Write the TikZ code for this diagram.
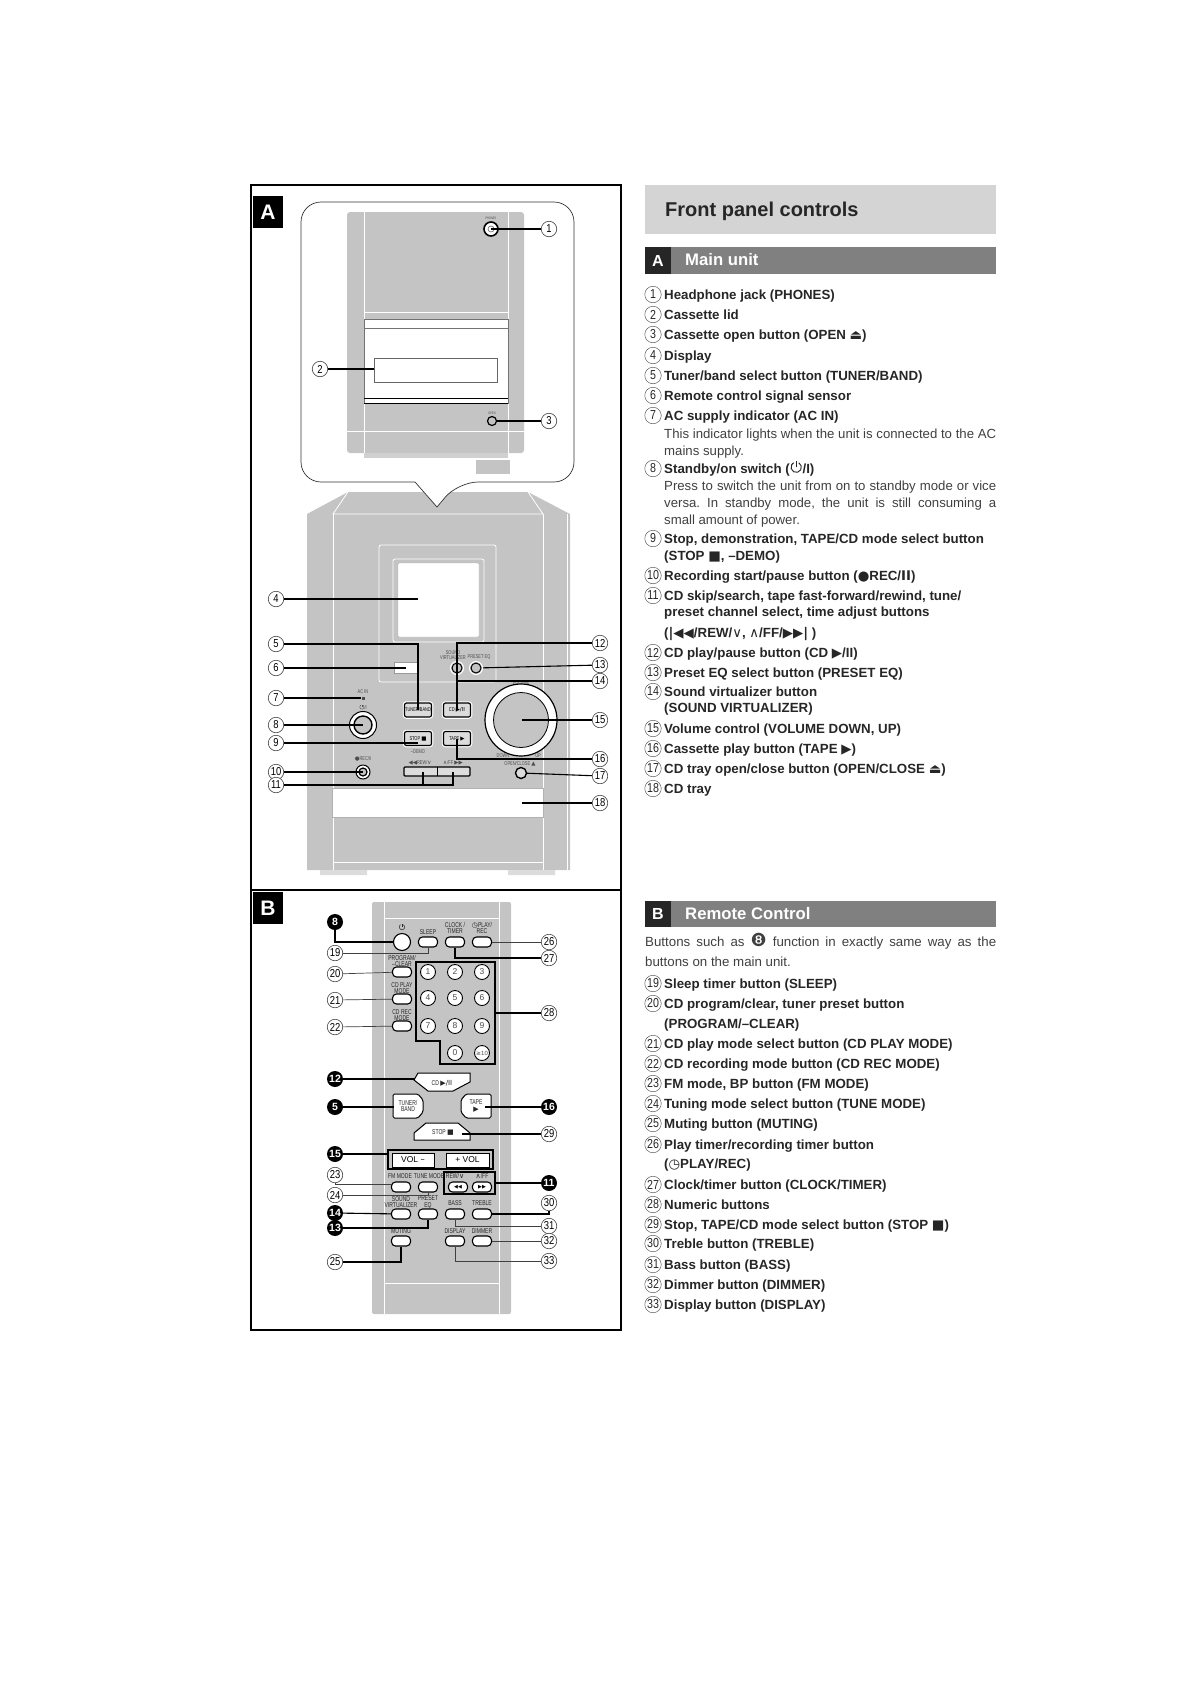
\documentclass[tikz,border=0pt]{standalone}
\usepackage{fontspec}
\setmainfont{Liberation Sans}
\newfontfamily\symf{DejaVu Sans}
\newfontfamily\condf[FakeStretch=0.72]{Liberation Sans}
\newfontfamily\numf[FakeStretch=0.82]{Liberation Sans}
\newcommand{\sym}[1]{{\symf #1}}
\newcommand{\thinsym}[1]{{\symf\mdseries #1}}
\newcommand{\pwrsym}{\tikz[baseline=0pt, x=.13em, y=.13em, line width=.07em]{\draw (5,6.1) arc[start angle=60, end angle=-240, radius=3]; \draw (3.5,3.5) -- (3.5,7);}}
\usetikzlibrary{arrows.meta, positioning, calc}
\definecolor{mGray}{HTML}{C4C4C4}
\definecolor{mBand}{HTML}{808080}
\definecolor{mTitle}{HTML}{D4D4D4}
\definecolor{mInk}{HTML}{262626}
\frenchspacing
\tikzset{
  callout/.style={circle, draw=black!75, line width=0.6pt, fill=white, minimum size=15.5pt, inner sep=0pt, font=\numf\fontsize{11.5}{11}\selectfont},
  blackout/.style={circle, fill=black, text=white, minimum size=16pt, inner sep=0pt, font=\bfseries\fontsize{10.5}{10}\selectfont},
  listnum/.style={circle, draw=black!65, line width=0.5pt, minimum size=16.5pt, inner sep=0pt, yshift=0.5pt, text=mInk, font=\numf\fontsize{13}{11}\selectfont},
  listtxt/.style={anchor=west, inner sep=0pt, yshift=-0.8pt, text height=10pt, text depth=3pt, text=mInk, font=\bfseries\fontsize{13.3}{14}\selectfont},
  desctxt/.style={anchor=north west, inner sep=0pt, text width=332pt, align=justify, text=black!75, font=\fontsize{13.2}{17}\selectfont},
  leader/.style={draw=black, line width=1.1pt},
  thinlead/.style={draw=black!75, line width=0.7pt},
  whiteline/.style={draw=white, line width=0.8pt},
  panelkey/.style={rectangle, rounded corners=2pt, draw=black, line width=1.2pt, fill=mGray!60, minimum width=27pt, minimum height=14pt, inner sep=0pt, preaction={draw=white, line width=3.5pt}, font=\condf\fontsize{5.5}{5}\selectfont},
  tiny/.style={inner sep=0pt, align=center, text=black!70, font=\condf\fontsize{5.5}{5}\selectfont},
  remkey/.style={rectangle, rounded corners=4pt, draw=black, line width=1.1pt, fill=white, minimum width=19pt, minimum height=10pt, inner sep=0pt},
  numkey/.style={circle, draw=black, line width=0.9pt, fill=white, minimum size=15pt, inner sep=0pt, text=black!70, font=\fontsize{8.5}{8}\selectfont},
  remtag/.style={inner sep=0pt, align=center, text=black!85, font=\condf\fontsize{7}{6.6}\selectfont},
  tabbox/.style={fill=black, text=white, minimum width=30pt, minimum height=32pt, inner sep=0pt, font=\bfseries\fontsize{21}{21}\selectfont},
  bandtab/.style={fill=black!85, text=white, minimum width=26pt, minimum height=26pt, inner sep=0pt, font=\bfseries\fontsize{16}{15}\selectfont},
  bandtxt/.style={anchor=west, inner sep=0pt, text=white, font=\bfseries\fontsize{16.7}{15}\selectfont}
}
\begin{document}
\begin{tikzpicture}[x=1pt, y=-1pt]
  \useasboundingbox (0,0) rectangle (1190,1684);
  % main unit
  \fill[mGray] (307,514) -- (348,492) -- (528,492) -- (570,514) -- (570,870) -- (307,870) -- cycle;
  \draw[whiteline] (348,492) -- (333,514) -- (543,514) -- (528,492);
  \draw[whiteline] (333,514) -- (333,870) (543,514) -- (543,870) (333,862) -- (543,862);
  \draw[whiteline] (567,514) -- (567,870);
  \fill[mGray!60] (320,870) rectangle (367,875) (508,870) rectangle (555,875);
  \draw[whiteline, rounded corners=2pt] (379,545) rectangle (496,682);
  \draw[whiteline, rounded corners=2pt] (393,559) rectangle (484,642);
  \draw[draw=black!30, fill=white, rounded corners=1pt] (398,563) rectangle (479,637);
  \draw[draw=black!30, fill=white] (332,788) rectangle (543,817);
  \node[draw=black!40, fill=white, minimum width=23pt, minimum height=11pt, inner sep=0pt] (sensor) at (405.5,667.5) {};
  \node[panelkey] (tuner) at (418,710) {TUNER/BAND};
  \node[panelkey] (cdkey) at (457,710) {CD \sym{▶/II}};
  \node[panelkey] (stopkey) at (418,738.5) {STOP \sym{■}};
  \node[panelkey] (tapekey) at (457,738.5) {TAPE \sym{▶}};
  \draw[black, line width=1.2pt, fill=mGray!60, rounded corners=1pt] (404,767) rectangle (470,776);
  \draw[black, line width=1pt] (437,767) -- (437,776);
  \node[circle, draw=white, line width=1pt, fill=mGray, minimum size=13pt, inner sep=0pt] (virt) at (457,668) {};
  \node[circle, draw=black, line width=1pt, fill=mGray, minimum size=10pt, inner sep=0pt] at (457,668) {};
  \node[circle, draw=white, line width=1pt, fill=mGray, minimum size=13pt, inner sep=0pt] (eqkey) at (476,668) {};
  \node[circle, draw=black, line width=1pt, fill=mGray, minimum size=10pt, inner sep=0pt] at (476,668) {};
  \node[circle, draw=black, line width=1.2pt, fill=white, minimum size=72pt, inner sep=0pt] (knob) at (521,720) {};
  \node[circle, draw=black, line width=0.8pt, fill=mGray, minimum size=55pt, inner sep=0pt] at (521,720) {};
  \node[circle, draw=black, line width=1pt, fill=white, minimum size=27pt, inner sep=0pt] (stand) at (363,725) {};
  \node[circle, draw=black, line width=1.4pt, fill=mGray, minimum size=18pt, inner sep=0pt] at (363,725) {};
  \node[circle, draw=black, line width=1pt, fill=white, minimum size=14pt, inner sep=0pt] (recbtn) at (363,772) {};
  \node[circle, draw=black, line width=1.2pt, fill=mGray, minimum size=8pt, inner sep=0pt] at (363,772) {};
  \node[circle, draw=black, line width=1.4pt, fill=mGray!60, minimum size=11pt, inner sep=0pt] (openbtn) at (521,773) {};
  \node[rectangle, fill=black!70, minimum size=3pt, inner sep=0pt] (acled) at (363,698) {};
  \foreach \nm/\x/\y/\txt in {acin/363/692/{AC IN}, ston/363/707/{\pwrsym/I}, dem/418/752/{–DEMO}, rec/363/759/{\sym{●}REC/II},
      rew/420/763/{\sym{◀◀}REW/\sym{∨}}, ffw/453/763/{\sym{∧}/FF \sym{▶▶}}, snd/453/655/{SOUND\\VIRTUALIZER}, pre/479/657/{PRESET EQ},
      vol/521/683/{VOLUME}, dwn/503/756/{DOWN}, upl/538/756/{UP}, opn/520/764/{OPEN/CLOSE \sym{▲}}} {
    \node[tiny] (\nm) at (\x,\y) {\txt};
  }
  % zoom bubble with the top of the unit
  \draw[black!80, line width=0.7pt, fill=white] (437,507) -- (415,482) [rounded corners=20pt] -- (301,482) -- (301,202) -- (574,202) -- (574,482) -- (458,482) [sharp corners] -- cycle;
  \fill[mGray, rounded corners=3pt] (347,212) -- (524,212) -- (524,453) -- (347,453) -- cycle;
  \draw[whiteline] (364,212) -- (364,458) (508,212) -- (508,458) (364,312) -- (508,312) (347,431) -- (524,431);
  \draw[draw=black!55, fill=white, line width=0.6pt] (364,319) rectangle (508,403);
  \draw[draw=black!55, line width=0.6pt] (364,328) -- (508,328);
  \draw[draw=black, line width=0.8pt] (364,398) -- (508,398) (364,403) -- (508,403);
  \node[draw=black!60, fill=white, line width=1pt, minimum width=123pt, minimum height=24pt, inner sep=0pt] (lidslot) at (435.5,370) {};
  \fill[mGray!80] (364,453) rectangle (508,458);
  \fill[mGray] (476,460) rectangle (510,474);
  \node[circle, draw=black, line width=1.6pt, fill=white, minimum size=14pt, inner sep=0pt] (jackA) at (491,229) {};
  \node[circle, draw=black!60, line width=0.6pt, minimum size=6pt, inner sep=0pt] at (491,229) {};
  \node[circle, draw=black, line width=1.2pt, fill=mGray, minimum size=9pt, inner sep=0pt] (jackB) at (492,421) {};
  \node[tiny, font=\condf\fontsize{3.5}{3}\selectfont] (phn) at (491,218) {PHONES};
  \node[tiny, font=\condf\fontsize{3.5}{3}\selectfont] (opnB) at (492,413) {OPEN};
  \coordinate (e2) at (374,369);
  \coordinate (e4) at (418,599);
  \coordinate (e6) at (406,668);
  \coordinate (e7) at (361,698);
  \coordinate (e15) at (522,720);
  \coordinate (e18) at (522,803);
  \coordinate (e9) at (418,743);
  \coordinate (e11a) at (423,772);
  \coordinate (e11b) at (453,772);
  \foreach \n/\x/\y in {1/549/229, 3/549/421, 2/320/369, 4/276/599, 5/276/644, 6/276/668, 7/276/698, 8/276/725, 9/276/743, 10/276/772, 11/276/785,
      12/600/643, 13/600/665, 14/600/681, 15/600/720, 16/600/759, 17/600/776, 18/600/803} {
    \node[callout] (c\n) at (\x,\y) {\n};
  }
  \foreach \a/\b in {c1/jackA.center, c3/jackB, c2/e2, c4/e4, c6/e6, c7/e7, c8/stand.center, c9/e9, c10/recbtn.center, c13/eqkey, c15/e15, c17/openbtn, c18/e18} {
    \draw[leader] (\a) -- (\b);
  }
  \draw[leader] (c5) -| (tuner.center);
  \draw[leader] (c12) -| (cdkey.center);
  \draw[leader] (c14) -| (virt);
  \draw[leader] (c16) -| (tapekey.center);
  \draw[leader] (c11) -| (e11a);
  \draw[leader] (c11) -| (e11b);
  % remote control
  \fill[mGray, rounded corners=2pt] (372,902) rectangle (511,1314);
  \draw[whiteline] (384,902) -- (384,1314) (499,902) -- (499,1314) (384,918) rectangle (499,1283);
  \node[remkey, circle, minimum size=17pt, minimum width=17pt] (power) at (402,942) {};
  \foreach \nm/\x/\y in {sleep/428/942, clock/455/942, plyrec/482/942, prog/402/972, playm/402/999, recm/402/1026,
      fmm/401/1187, tunem/428/1187, rwd/458/1187, fwd/482/1187, sndv/401/1214, preq/428/1214, bass/455/1214, treb/482/1214,
      mute/401/1241, disp/455/1241, dimm/482/1241} {
    \node[remkey] (\nm) at (\x,\y) {};
  }
  \node[font=\fontsize{5}{5}\selectfont, inner sep=0pt] (rwdg) at (458,1187) {\sym{◀◀}};
  \node[font=\fontsize{5}{5}\selectfont, inner sep=0pt] (fwdg) at (482,1187) {\sym{▶▶}};
  \draw[black, line width=1.2pt] (416,962) -- (495,962) -- (495,1064) -- (440,1064) -- (440,1041) -- (416,1041) -- cycle;
  \foreach \t/\x/\y in {1/428/972, 2/455/972, 3/482/972, 4/428/998, 5/455/998, 6/482/998, 7/428/1026, 8/455/1026, 9/482/1026, 0/455/1053} {
    \node[numkey] (n\t) at (\x,\y) {\t};
  }
  \node[numkey, font=\fontsize{6}{6}\selectfont] (nten) at (482,1053) {\sym{≥}10};
  \draw[black, line width=1pt, fill=white] (414,1080) -- (418,1073) -- (470,1073) -- (470,1082) -- (453,1091) -- (428,1091) -- cycle;
  \draw[black, line width=1pt, fill=white, rounded corners=1.5pt] (393,1094) -- (418,1094) -- (423,1100) -- (423,1112) -- (418,1118) -- (393,1118) -- cycle;
  \draw[black, line width=1pt, fill=white, rounded corners=1.5pt] (491,1094) -- (466,1094) -- (461,1100) -- (461,1112) -- (466,1118) -- (491,1118) -- cycle;
  \draw[black, line width=1pt, fill=white] (414,1133) -- (426,1123) -- (458,1123) -- (470,1133) -- (470,1140) -- (414,1140) -- cycle;
  \draw[black, line width=1.2pt] (388,1150) rectangle (493,1169) (444,1172) rectangle (495,1194);
  \node[draw=black, line width=1pt, fill=white, minimum width=42pt, minimum height=14pt, inner sep=0pt, font=\fontsize{8.5}{8}\selectfont] (voldn) at (413,1160) {VOL \sym{–}};
  \node[draw=black, line width=1pt, fill=white, minimum width=43pt, minimum height=14pt, inner sep=0pt, font=\fontsize{8.5}{8}\selectfont] (volup) at (467.5,1160) {+ VOL};
  \foreach \nm/\x/\y/\txt in {rpow/402/927/{\pwrsym}, rslp/428/932/{SLEEP}, rclk/455/928/{CLOCK /\\TIMER}, rply/482/928/{\sym{◷}PLAY/\\REC},
      rprg/402/961/{PROGRAM/\\–CLEAR}, rcdp/402/988/{CD PLAY\\MODE}, rcdr/402/1015/{CD REC\\MODE},
      rcd/442/1083/{CD \sym{▶/II}}, rtun/408/1106/{TUNER/\\BAND}, rtap/476/1106/{TAPE\\\sym{▶}}, rstp/443/1132/{STOP \sym{■}},
      rfm/400/1176/{FM MODE}, rtn/429/1176/{TUNE MODE}, rrw/455/1176/{REW/\sym{∨}}, rff/482/1176/{\sym{∧}/FF},
      rsv/401/1202/{SOUND\\VIRTUALIZER}, req/428/1202/{PRESET\\EQ}, rbs/455/1203/{BASS}, rtr/482/1203/{TREBLE},
      rmu/401/1231/{MUTING}, rdi/455/1231/{DISPLAY}, rdm/482/1231/{DIMMER}} {
    \node[remtag] (\nm) at (\x,\y) {\txt};
  }
  \coordinate (e12) at (415,1079);
  \coordinate (e5) at (394,1107);
  \coordinate (e16) at (485,1107);
  \coordinate (e15r) at (388,1154);
  \coordinate (e11r) at (495,1183);
  \coordinate (e23) at (392,1184);
  \coordinate (e28) at (495,1013);
  \coordinate (e29) at (462,1134);
  \foreach \n/\x/\y in {19/335/953, 20/335/974, 21/335/1000, 22/335/1027, 23/335/1175, 24/335/1195, 25/335/1262,
      26/549/942, 27/549/958, 28/549/1013, 29/549/1134, 30/549/1203, 31/549/1226, 32/549/1241, 33/549/1261} {
    \node[callout] (r\n) at (\x,\y) {\n};
  }
  \foreach \n/\x/\y in {8/335/922, 12/335/1079, 5/335/1107, 15/335/1154, 14/335/1213, 13/335/1228, 16/549/1107, 11/549/1183} {
    \node[blackout] (k\n) at (\x,\y) {\n};
  }
  \foreach \a/\b in {k12/e12, k5/e5, k16/e16, k15/e15r, k11/e11r, k14/sndv, r28/e28, r29/e29} {
    \draw[leader] (\a) -- (\b);
  }
  \foreach \a/\b in {r20/prog, r21/playm, r22/recm, r26/plyrec, r32/dimm} {
    \draw[thinlead] (\a) -- (\b);
  }
  \draw[leader] (k8) |- (power);
  \draw[thinlead] (r19) -| (sleep);
  \draw[leader] (r27) -| (clock);
  \draw[thinlead] (r23) |- (e23);
  \draw[thinlead] (r24) -| (tunem);
  \draw[leader] (k13) -| (preq);
  \draw[leader] (r25) -| (mute);
  \draw[leader] (treb) -| (r30);
  \draw[thinlead] (bass) |- (r31);
  \draw[thinlead] (disp) |- (r33);
  % frames
  \draw[black, line width=2.8pt] (251,185) rectangle (621,1330) (251,890) -- (621,890);
  \node[tabbox] (tabA) at (268,212) {A};
  \node[tabbox] (tabB) at (268,908) {B};
  % text column
  \node[fill=mTitle, minimum width=351pt, minimum height=49pt, inner sep=0pt] (titlebar) at (820.5,209.5) {};
  \node[anchor=west, inner sep=0pt, text=black!85, font=\bfseries\fontsize{20}{20}\selectfont] (title) at (665,211) {Front panel controls};
  \node[fill=mBand, minimum width=351pt, minimum height=27pt, inner sep=0pt] (bandA) at (820.5,260.5) {};
  \node[bandtab, minimum height=27pt] (bandtabA) at (658,260.5) {A};
  \node[bandtxt] (bandtxtA) at (685,260) {Main unit};
  \foreach \n/\y/\txt in {1/295/{Headphone jack (PHONES)}, 2/315/{Cassette lid}, 3/335/{Cassette open button (OPEN \sym{⏏})}, 4/356/{Display},
      5/376/{Tuner/band select button (TUNER/BAND)}, 6/396/{Remote control signal sensor}, 7/416/{AC supply indicator (AC IN)},
      8/469/{Standby/on switch (\pwrsym/I)}, 9/539/{Stop, demonstration, TAPE/CD mode select button}, 10/576/{Recording start/pause button (\sym{●}REC/\sym{II})},
      11/596/{CD skip/search, tape fast-forward/rewind, tune/}, 12/653/{CD play/pause button (CD \sym{▶}/II)}, 13/673/{Preset EQ select button (PRESET EQ)},
      14/692/{Sound virtualizer button}, 15/729/{Volume control (VOLUME DOWN, UP)}, 16/749/{Cassette play button (TAPE \sym{▶})},
      17/769/{CD tray open/close button (OPEN/CLOSE \sym{⏏})}, 18/789/{CD tray}} {
    \node[listnum] (a\n) at (653,\y) {\n};
    \node[listtxt] (at\n) at (664,\y) {\txt};
  }
  \foreach \nm/\y/\txt in {at9b/556/{(STOP \sym{■}, –DEMO)}, at11b/612/{preset channel select, time adjust buttons},
      at11c/633/{(\sym{|◀◀}/REW/\thinsym{∨}, \thinsym{∧}/FF/\sym{▶▶|} )}, at14b/708/{(SOUND VIRTUALIZER)}} {
    \node[listtxt] (\nm) at (664,\y) {\txt};
  }
  \node[desctxt] (desc7) at (664,429) {This indicator lights when the unit is connected to the AC\linebreak mains supply.};
  \node[desctxt] (desc8) at (664,481) {Press to switch the unit from on to standby mode or vice\linebreak versa. In standby mode, the unit is still consuming a\linebreak small amount of power.};
  \node[fill=mBand, minimum width=351pt, minimum height=26pt, inner sep=0pt] (bandB) at (820.5,914) {};
  \node[bandtab] (bandtabB) at (658,914) {B};
  \node[bandtxt] (bandtxtB) at (685,914) {Remote Control};
  \node[desctxt, text width=351pt, font=\fontsize{13.3}{20}\selectfont] (descB) at (645,937) {Buttons such as \smash{\symf\fontsize{18}{18}\selectfont ❽} function in exactly same way as the\linebreak buttons on the main unit.};
  \foreach \n/\y/\txt in {19/984/{Sleep timer button (SLEEP)}, 20/1004/{CD program/clear, tuner preset button}, 21/1044/{CD play mode select button (CD PLAY MODE)},
      22/1064/{CD recording mode button (CD REC MODE)}, 23/1084/{FM mode, BP button (FM MODE)}, 24/1104/{Tuning mode select button (TUNE MODE)},
      25/1124/{Muting button (MUTING)}, 26/1145/{Play timer/recording timer button}, 27/1185/{Clock/timer button (CLOCK/TIMER)}, 28/1205/{Numeric buttons},
      29/1225/{Stop, TAPE/CD mode select button (STOP \sym{■})}, 30/1244/{Treble button (TREBLE)}, 31/1265/{Bass button (BASS)},
      32/1285/{Dimmer button (DIMMER)}, 33/1305/{Display button (DISPLAY)}} {
    \node[listnum] (b\n) at (653,\y) {\n};
    \node[listtxt] (bt\n) at (664,\y) {\txt};
  }
  \foreach \nm/\y/\txt in {bt20b/1024/{(PROGRAM/–CLEAR)}, bt26b/1164/{(\sym{◷}PLAY/REC)}} {
    \node[listtxt] (\nm) at (664,\y) {\txt};
  }
\end{tikzpicture}
\end{document}
